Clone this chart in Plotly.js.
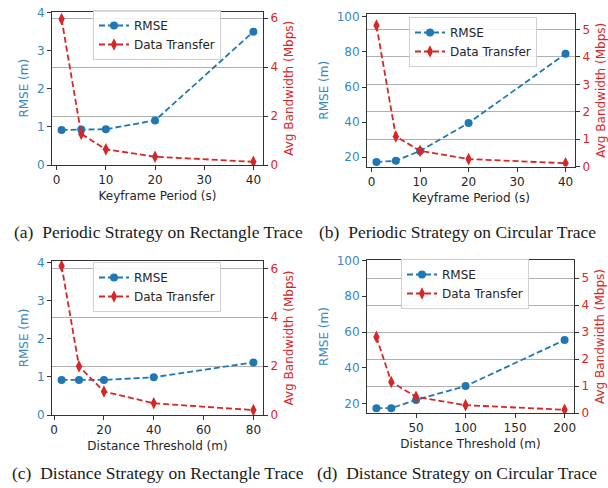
<!DOCTYPE html>
<html>
<head>
<meta charset="utf-8">
<script src="https://cdn.plot.ly/plotly-3.0.1.min.js"></script>
<style>html,body{margin:0;padding:0;background:#fff;}#chart{width:608px;height:488px;}</style>
</head>
<body>
<div id="chart"></div>
<script>
// ---- data ----
const periodA = [1, 5, 10, 20, 40];
const rmseA = [0.92, 0.93, 0.94, 1.17, 3.5];
const bwA = [5.96, 1.27, 0.64, 0.34, 0.13];

const periodB = [1, 5, 10, 20, 40];
const rmseB = [17.1, 17.9, 23.5, 39.4, 79];
const bwB = [5.15, 1.1, 0.57, 0.27, 0.12];

const distC = [3, 10, 20, 40, 80];
const rmseC = [0.92, 0.92, 0.92, 0.99, 1.38];
const bwC = [6.1, 1.99, 0.96, 0.48, 0.2];

const distD = [10, 25, 50, 100, 200];
const rmseD = [17.6, 17.6, 22.2, 29.9, 55.6];
const bwD = [2.82, 1.15, 0.6, 0.29, 0.12];

const seriesNames = ["RMSE", "Data Transfer"];
const xTitles = ["Keyframe Period (s)", "Keyframe Period (s)", "Distance Threshold (m)", "Distance Threshold (m)"];
const leftTitle = "RMSE (m)";
const rightTitle = "Avg Bandwidth (Mbps)";
const captions = [
  "(a)&nbsp; Periodic Strategy on Rectangle Trace",
  "(b)&nbsp; Periodic Strategy on Circular Trace",
  "(c)&nbsp; Distance Strategy on Rectangle Trace",
  "(d)&nbsp; Distance Strategy on Circular Trace"
];
const xTicksA = [0, 10, 20, 30, 40];
const xTicksC = [0, 20, 40, 60, 80];
const xTicksD = [50, 100, 150, 200];
const yTicksRect = [0, 1, 2, 3, 4];
const yTicksCirc = [20, 40, 60, 80, 100];
const y2TicksRect = [0, 2, 4, 6];
const y2TicksCirc = [0, 1, 2, 3, 4, 5];

// ---- styling / layout ----
const W = 608, H = 488;
const BLUE = "#1f77b4", RED = "#d62728";
const BLUE_TXT = "#3a87c2";
const FONT = "DejaVu Sans";
const FS = 12;

function xd(a, b) { return [a / W, b / W]; }
function yd(top, bottom) { return [1 - bottom / H, 1 - top / H]; }

const panels = [
  {x: periodA, r: rmseA, b: bwA, xdom: xd(52, 263), ydom: yd(11.5, 165), xr: [-0.95, 41.95], yr: [0, 4.03], y2r: [0, 6.27], xt: xTicksA, yt: yTicksRect, y2t: y2TicksRect, leg: [93, 10]},
  {x: periodB, r: rmseB, b: bwB, xdom: xd(367, 575), ydom: yd(14, 166.5), xr: [-0.95, 41.95], yr: [14.6, 101.7], y2r: [0, 5.57], xt: xTicksA, yt: yTicksCirc, y2t: y2TicksCirc, leg: [409, 17]},
  {x: distC, r: rmseC, b: bwC, xdom: xd(52, 263), ydom: yd(261, 415), xr: [-0.85, 83.85], yr: [0, 4.04], y2r: [0, 6.3], xt: xTicksC, yt: yTicksRect, y2t: y2TicksRect, leg: [93, 262]},
  {x: distD, r: rmseD, b: bwD, xdom: xd(367, 574), ydom: yd(260, 413), xr: [0.5, 209.5], yr: [14.9, 100.2], y2r: [0, 5.67], xt: xTicksD, yt: yTicksCirc, y2t: y2TicksCirc, leg: [401, 259]}
];

const traces = [];
const layout = {
  width: W, height: H,
  margin: {l: 0, r: 0, t: 0, b: 0},
  paper_bgcolor: "#fff", plot_bgcolor: "rgba(0,0,0,0)",
  showlegend: true,
  font: {family: FONT, size: FS, color: "#262626"},
  annotations: []
};

panels.forEach((p, i) => {
  const xn = i === 0 ? "" : String(i + 1);
  const yl = i === 0 ? "" : String(2 * i + 1);
  const yr = String(2 * i + 2);
  const legName = i === 0 ? "legend" : "legend" + (i + 1);
  traces.push({
    x: p.x, y: p.r, name: seriesNames[0], type: "scatter", mode: "lines+markers",
    xaxis: "x" + xn, yaxis: "y" + yl, legend: legName,
    line: {color: BLUE, width: 1.8, dash: "6px,3px"},
    marker: {color: BLUE, size: 8, symbol: "circle"}
  });
  traces.push({
    x: p.x, y: p.b, name: seriesNames[1], type: "scatter", mode: "lines+markers",
    xaxis: "x" + xn, yaxis: "y" + yr, legend: legName,
    line: {color: RED, width: 1.8, dash: "6px,3px"},
    marker: {color: RED, size: 9, symbol: "diamond-tall"}
  });
  layout["xaxis" + xn] = {
    domain: p.xdom, anchor: "y" + yl, range: p.xr,
    tickvals: p.xt, ticks: "outside", ticklen: 4, tickcolor: "#333", tickwidth: 1,
    showline: true, linecolor: "#333", linewidth: 1, mirror: true,
    showgrid: false, zeroline: false,
    tickfont: {family: FONT, size: FS, color: "#262626"},
    title: {text: xTitles[i], font: {family: FONT, size: FS, color: "#262626"}, standoff: 5}
  };
  layout["yaxis" + yl] = {
    domain: p.ydom, anchor: "x" + xn, range: p.yr,
    tickvals: p.yt, ticks: "outside", ticklen: 4, tickcolor: "#333", tickwidth: 1,
    showline: true, linecolor: "#333", linewidth: 1,
    showgrid: false, zeroline: false,
    tickfont: {family: FONT, size: FS, color: BLUE_TXT},
    title: {text: leftTitle, font: {family: FONT, size: FS, color: BLUE_TXT}, standoff: 5}
  };
  layout["yaxis" + yr] = {
    overlaying: "y" + yl, side: "right", anchor: "x" + xn, range: p.y2r,
    tickvals: p.y2t, ticks: "outside", ticklen: 4, tickcolor: "#333", tickwidth: 1,
    showline: true, linecolor: "#333", linewidth: 1,
    showgrid: true, gridcolor: "#b0b0b0", gridwidth: 1, zeroline: false,
    tickfont: {family: FONT, size: FS, color: RED},
    title: {text: rightTitle, font: {family: FONT, size: FS, color: RED}, standoff: 7}
  };
  layout[legName] = {
    x: p.leg[0] / W, y: 1 - p.leg[1] / H, xanchor: "left", yanchor: "top",
    xref: "paper", yref: "paper",
    bgcolor: "rgba(255,255,255,0.85)", bordercolor: "#d0d0d0", borderwidth: 1,
    font: {family: FONT, size: 12, color: "#262626"},
    tracegroupgap: 0, itemwidth: 30
  };
});

const capPos = [[158, 232], [457, 232], [158, 473], [457, 473]];
captions.forEach((c, i) => {
  layout.annotations.push({
    text: c, xref: "paper", yref: "paper",
    x: capPos[i][0] / W, y: 1 - capPos[i][1] / H,
    xanchor: "center", yanchor: "middle", showarrow: false,
    font: {family: "Liberation Serif", size: 17.5, color: "#1a1a1a"}
  });
});

Plotly.newPlot("chart", traces, layout, {displayModeBar: false, staticPlot: true});
</script>
</body>
</html>
